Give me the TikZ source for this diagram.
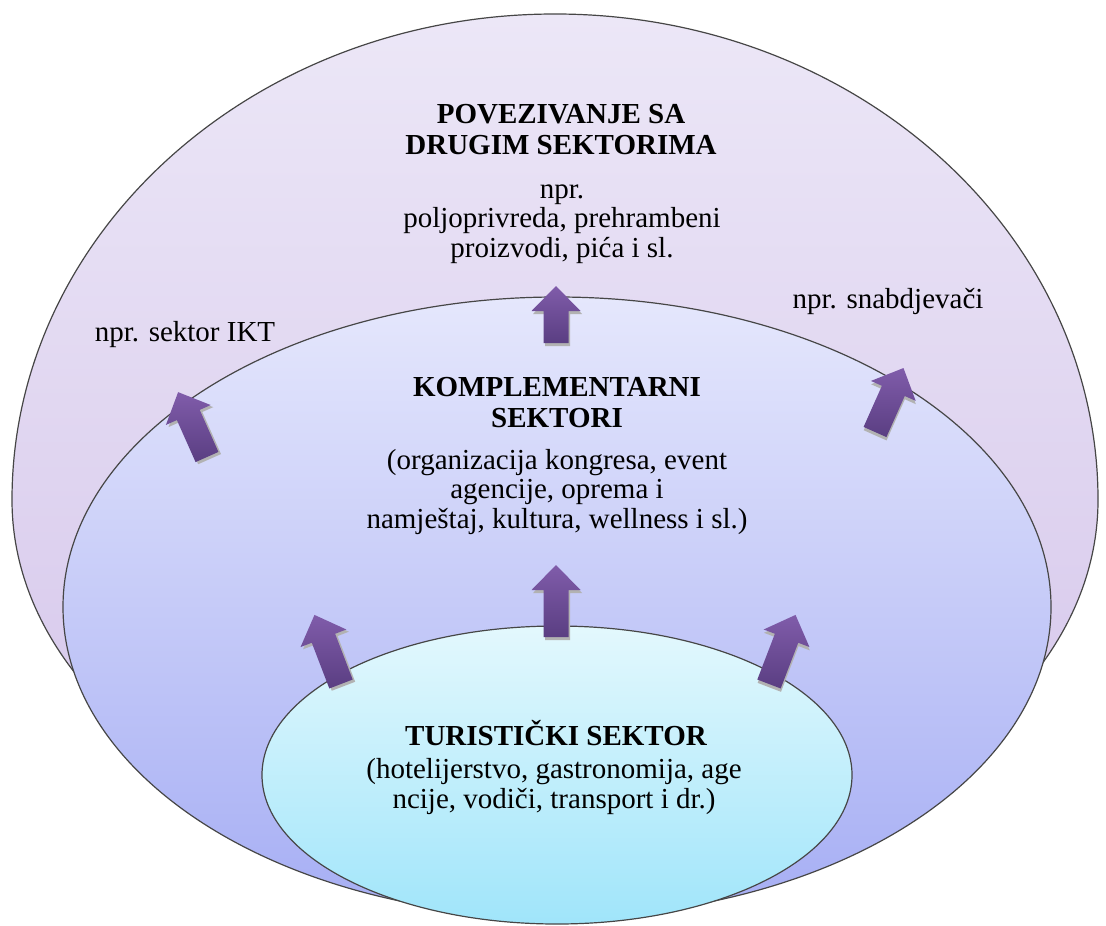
\documentclass[tikz,border=0pt]{standalone}
\usepackage{fontspec}
\setmainfont{Liberation Serif}
\usetikzlibrary{positioning,calc}

\definecolor{outertop}{RGB}{236,231,247}
\definecolor{outerbot}{RGB}{212,196,234}
\definecolor{midtop}{RGB}{229,231,252}
\definecolor{midbot}{RGB}{166,174,244}
\definecolor{innertop}{RGB}{227,248,253}
\definecolor{innerbot}{RGB}{160,229,250}
\definecolor{arrowtop}{RGB}{128,92,170}
\definecolor{arrowbot}{RGB}{90,62,130}
\definecolor{rim}{RGB}{70,70,70}

\tikzset{
  ring/.style={draw=rim, line width=0.6pt},
  titletext/.style={font=\fontsize{14.5}{15.5}\selectfont\bfseries, align=center, inner sep=0pt},
  bodytext/.style={font=\fontsize{14.5}{14.7}\selectfont, align=center, inner sep=0pt}
}

\begin{document}
\begin{tikzpicture}[x=0.5pt, y=-0.5pt]
    \useasboundingbox (0,0) rectangle (1106,925);

    % Draw rings (outer one is flatter below)
    \shade[ring, top color=outertop, bottom color=outerbot] (12,500) arc [start angle=180, end angle=360, x radius=543, y radius=486] arc [start angle=0, end angle=180, x radius=543, y radius=370] -- cycle;
    \shade[ring, top color=midtop, bottom color=midbot] (557,607) ellipse [x radius=494, y radius=310];
    \shade[ring, top color=innertop, bottom color=innerbot] (557,775) ellipse [x radius=295, y radius=149];

    % Draw arrows: tail x / tail y / angle / length
    \foreach \x/\y/\a/\len in {556/343/0/57, 556/637/0/72, 341/684/21/74, 769/684/-21/74, 207/457/24/71, 875/432/-24/70} {
        \begin{scope}[shift={(\x,\y)}, rotate=\a]
            \fill[gray!60] ($(-12.5,0)+(1.5,3)$) -- ++(0,-\len+25) -- ++(-12,0) -- ++(24.5,-25) -- ++(24.5,25) -- ++(-12,0) -- ++(0,\len-25) -- cycle;
            \shade[top color=arrowtop, bottom color=arrowbot] (-12.5,0) -- (-12.5,-\len+25) -- (-24.5,-\len+25) -- (0,-\len) -- (24.5,-\len+25) -- (12.5,-\len+25) -- (12.5,0) -- cycle;
        \end{scope}
    }

    % Texts (base = last line)
    \node[titletext, anchor=base] (drugi) at (561,155) {POVEZIVANJE SA\\DRUGIM SEKTORIMA};
    \node[bodytext, anchor=base] (drugiprimjer) at (562,257) {npr.\\poljoprivreda, prehrambeni\\proizvodi, pića i sl.};
    \node[bodytext, anchor=base] (ikt) at (185,341) {npr. sektor IKT};
    \node[bodytext, anchor=base] (snabdjevaci) at (888,308) {npr. snabdjevači};
    \node[titletext, anchor=base] (komplementarni) at (557,427) {KOMPLEMENTARNI\\SEKTORI};
    \node[bodytext, anchor=base] (komplprimjer) at (557,528) {(organizacija kongresa, event\\agencije, oprema i\\namještaj, kultura, wellness i sl.)};
    \node[titletext, anchor=base] (turisticki) at (556,745) {TURISTIČKI SEKTOR};
    \node[bodytext, anchor=base] (turprimjer) at (554,808) {(hotelijerstvo, gastronomija, age\\ncije, vodiči, transport i dr.)};
\end{tikzpicture}
\end{document}
